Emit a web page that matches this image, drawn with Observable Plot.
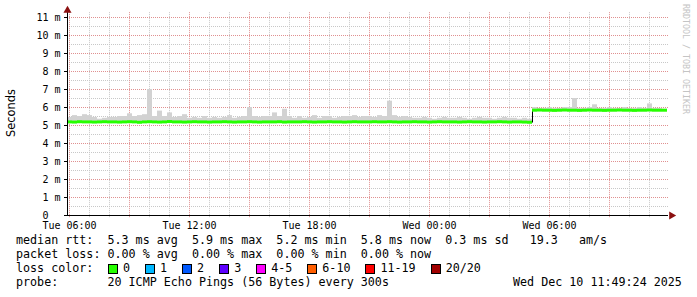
<!DOCTYPE html>
<html><head><meta charset="utf-8">
<script src="https://cdn.jsdelivr.net/npm/d3@7"></script>
<script src="https://cdn.jsdelivr.net/npm/@observablehq/plot@0.6"></script>
<style>
body{margin:0;background:#fff;}
#wrap{position:relative;width:697px;height:297px;overflow:hidden;background:#fff;font-family:"DejaVu Sans Mono",monospace;color:#000;}
#chart{position:absolute;left:0;top:0;}
.line{position:absolute;font-size:11.7px;line-height:11.7px;white-space:pre;}
#ytitle{position:absolute;left:-39px;top:106px;width:100px;text-align:center;font-family:"DejaVu Sans",sans-serif;font-size:11.4px;line-height:14px;transform:rotate(-90deg);}
#wm{position:absolute;left:626px;top:54px;width:120px;text-align:center;font-size:8.3px;line-height:10px;color:#c4c4c4;transform:rotate(90deg);white-space:pre;}
#legend{position:absolute;left:108px;top:264px;display:flex;align-items:flex-start;}
.sq{width:8px;height:8px;border:1px solid #000;margin-right:5px;}
.lb{font-size:11.7px;line-height:11.7px;margin-top:-1px;margin-right:15px;white-space:pre;}
</style></head><body>
<div id="wrap"></div>
<script>
// ---- data ----
const startTime = "2025-12-09T05:54:00Z";
const endTime = "2025-12-10T11:57:00Z";
const slotMinutes = 15;
// median RTT (ms) per 15-minute slot, starting at startTime
const median = [
5.20,5.19,5.21,5.20,5.20,5.19,5.20,5.21,5.20,5.20,
5.19,5.20,5.21,5.20,5.18,5.20,5.21,5.20,5.19,5.20,
5.22,5.20,5.20,5.19,5.20,5.21,5.20,5.20,5.19,5.20,
5.20,5.21,5.20,5.19,5.20,5.20,5.21,5.20,5.19,5.20,
5.20,5.20,5.21,5.19,5.20,5.20,5.20,5.21,5.20,5.19,
5.20,5.20,5.21,5.20,5.20,5.19,5.20,5.21,5.20,5.20,
5.20,5.21,5.20,5.20,5.21,5.20,5.19,5.20,5.20,5.21,
5.20,5.20,5.19,5.20,5.21,5.20,5.20,5.20,5.19,5.20,
5.21,5.20,5.20,5.19,5.20,5.20,5.21,5.20,5.19,5.20,
5.20,5.19,5.18,5.85,5.86,5.85,5.85,5.84,5.85,5.86,
5.85,5.85,5.84,5.85,5.86,5.85,5.85,5.84,5.85,5.85,
5.86,5.85,5.85,5.84,5.85,5.85,5.86,5.85,5.85,5.85
];
// highest ping (ms) per slot (top of the smoke)
const smokeMax = [
5.45,5.55,5.50,5.60,5.55,5.45,5.35,5.40,5.45,5.45,
5.50,5.50,5.65,5.50,5.55,5.60,7.00,5.50,5.80,5.50,
5.70,5.45,5.50,5.60,5.40,5.45,5.40,5.50,5.40,5.45,
5.40,5.45,5.55,5.40,5.45,5.50,6.00,5.50,5.45,5.50,
5.50,5.70,5.50,5.90,5.50,5.40,5.50,5.40,5.45,5.55,
5.40,5.50,5.50,5.40,5.45,5.50,5.50,5.55,5.45,5.50,
5.50,5.45,5.55,5.50,6.35,5.55,5.45,5.50,5.45,5.40,
5.40,5.45,5.40,5.35,5.40,5.45,5.40,5.40,5.45,5.40,
5.35,5.40,5.45,5.40,5.40,5.35,5.40,5.45,5.40,5.40,
5.35,5.40,5.35,6.00,5.95,5.95,6.00,5.95,5.95,6.00,
6.00,6.50,5.95,5.95,6.00,6.15,5.95,5.95,6.00,5.95,
5.95,6.00,5.95,5.95,6.00,5.95,6.20,5.95,5.95,5.90
];
const yTicks = [0,1,2,3,4,5,6,7,8,9,10,11];
const xTickTimes = ["2025-12-09T06:00:00Z","2025-12-09T12:00:00Z","2025-12-09T18:00:00Z","2025-12-10T00:00:00Z","2025-12-10T06:00:00Z"];
const lossLabels = ["0","1","2","3","4-5","6-10","11-19","20/20"];
const lossColors = ["#26ff00","#00b8ff","#0059ff","#5e00ff","#ff00ff","#ff5e00","#ff0000","#a10000"];
const statLines = [
  "median rtt:  5.3 ms avg  5.9 ms max  5.2 ms min  5.8 ms now  0.3 ms sd   19.3   am/s",
  "packet loss: 0.00 % avg  0.00 % max  0.00 % min  0.00 % now",
  "loss color:",
  "probe:       20 ICMP Echo Pings (56 Bytes) every 300s"
];
const stampText = "Wed Dec 10 11:49:24 2025";
const yTitle = "Seconds";
const watermark = "RRDTOOL / TOBI OETIKER";

// ---- build ----
const t0 = new Date(startTime), tEnd = new Date(endTime);
const rows = median.map((m, i) => ({
  t0: new Date(+t0 + i * slotMinutes * 60000),
  t1: new Date(+t0 + (i + 1) * slotMinutes * 60000),
  median: m,
  max: smokeMax[i]
}));
const hourGrid = d3.utcHour.range(d3.utcHour.ceil(t0), tEnd);
const minorX = hourGrid.filter(d => d.getUTCHours() % 3 !== 0);
const majorX = hourGrid.filter(d => d.getUTCHours() % 3 === 0);
const minorY = d3.range(0.5, 11.5, 1);
const majorY = yTicks.filter(d => d > 0);
const yTop = (215 - 12) / 18;

const plot = Plot.plot({
  width: 697, height: 232,
  marginLeft: 67, marginRight: 29, marginTop: 12, marginBottom: 17,
  style: {fontFamily: "DejaVu Sans Mono, monospace", fontSize: "10px", color: "#000", background: "#fff"},
  x: {type: "utc", domain: [t0, tEnd]},
  y: {domain: [0, yTop]},
  marks: [
    Plot.ruleY(minorY, {stroke: "#c8c8c8", strokeDasharray: "1,1"}),
    Plot.ruleY(majorY, {stroke: "#e09090", strokeDasharray: "1,1"}),
    Plot.ruleX(minorX, {y1: -0.12, y2: yTop, stroke: "#c8c8c8", strokeDasharray: "1,1"}),
    Plot.ruleX(majorX, {y1: -0.12, y2: yTop, stroke: "#e09090", strokeDasharray: "1,1"}),
    Plot.rectY(rows, {x1: "t0", x2: "t1", y1: d => d.median - 0.08, y2: "max", fill: "#d2d2d2", inset: 0}),
    Plot.line(rows, {x: "t0", y: "median", curve: "step-after", stroke: "#000", strokeWidth: 1}),
    Plot.ruleY(rows, {x1: "t0", x2: "t1", y: "median", stroke: "#26ff00", strokeWidth: 3}),
    Plot.axisY(yTicks, {tickSize: 3, tickPadding: 4, tickFormat: d => d === 0 ? "0\u00a0\u00a0" : d + " m", fontSize: 10}),
    Plot.axisX(xTickTimes.map(d => new Date(d)), {tickSize: 0, tickPadding: 6, tickFormat: d3.utcFormat("%a %H:%M"), fontSize: 10}),
    Plot.ruleY([0], {stroke: "#000"}),
    Plot.ruleX([t0], {y1: 0, y2: yTop, stroke: "#000"}),
    Plot.dot([0], {frameAnchor: "top-left", symbol: "triangle", r: 3, fill: "#8b1010", stroke: null, dy: -2}),
    Plot.dot([0], {frameAnchor: "bottom-right", symbol: "triangle", rotate: 90, r: 3, fill: "#8b1010", stroke: null, dx: 3})
  ]
});
const wrap = document.getElementById("wrap");
plot.id = "chart";
wrap.appendChild(plot);

const tops = [235, 249, 263, 277];
statLines.forEach((s, i) => {
  const d = document.createElement("div");
  d.className = "line"; d.style.left = "16px"; d.style.top = tops[i] + "px";
  d.textContent = s; wrap.appendChild(d);
});
const st = document.createElement("div");
st.className = "line"; st.style.left = "513px"; st.style.top = tops[3] + "px";
st.textContent = stampText; wrap.appendChild(st);

const lg = document.createElement("div"); lg.id = "legend";
lossLabels.forEach((l, i) => {
  const s = document.createElement("div"); s.className = "sq"; s.style.background = lossColors[i];
  const t = document.createElement("div"); t.className = "lb"; t.textContent = l;
  lg.appendChild(s); lg.appendChild(t);
});
wrap.appendChild(lg);

const yt = document.createElement("div"); yt.id = "ytitle"; yt.textContent = yTitle; wrap.appendChild(yt);
const wm = document.createElement("div"); wm.id = "wm"; wm.textContent = watermark; wrap.appendChild(wm);
</script>
</body></html>
